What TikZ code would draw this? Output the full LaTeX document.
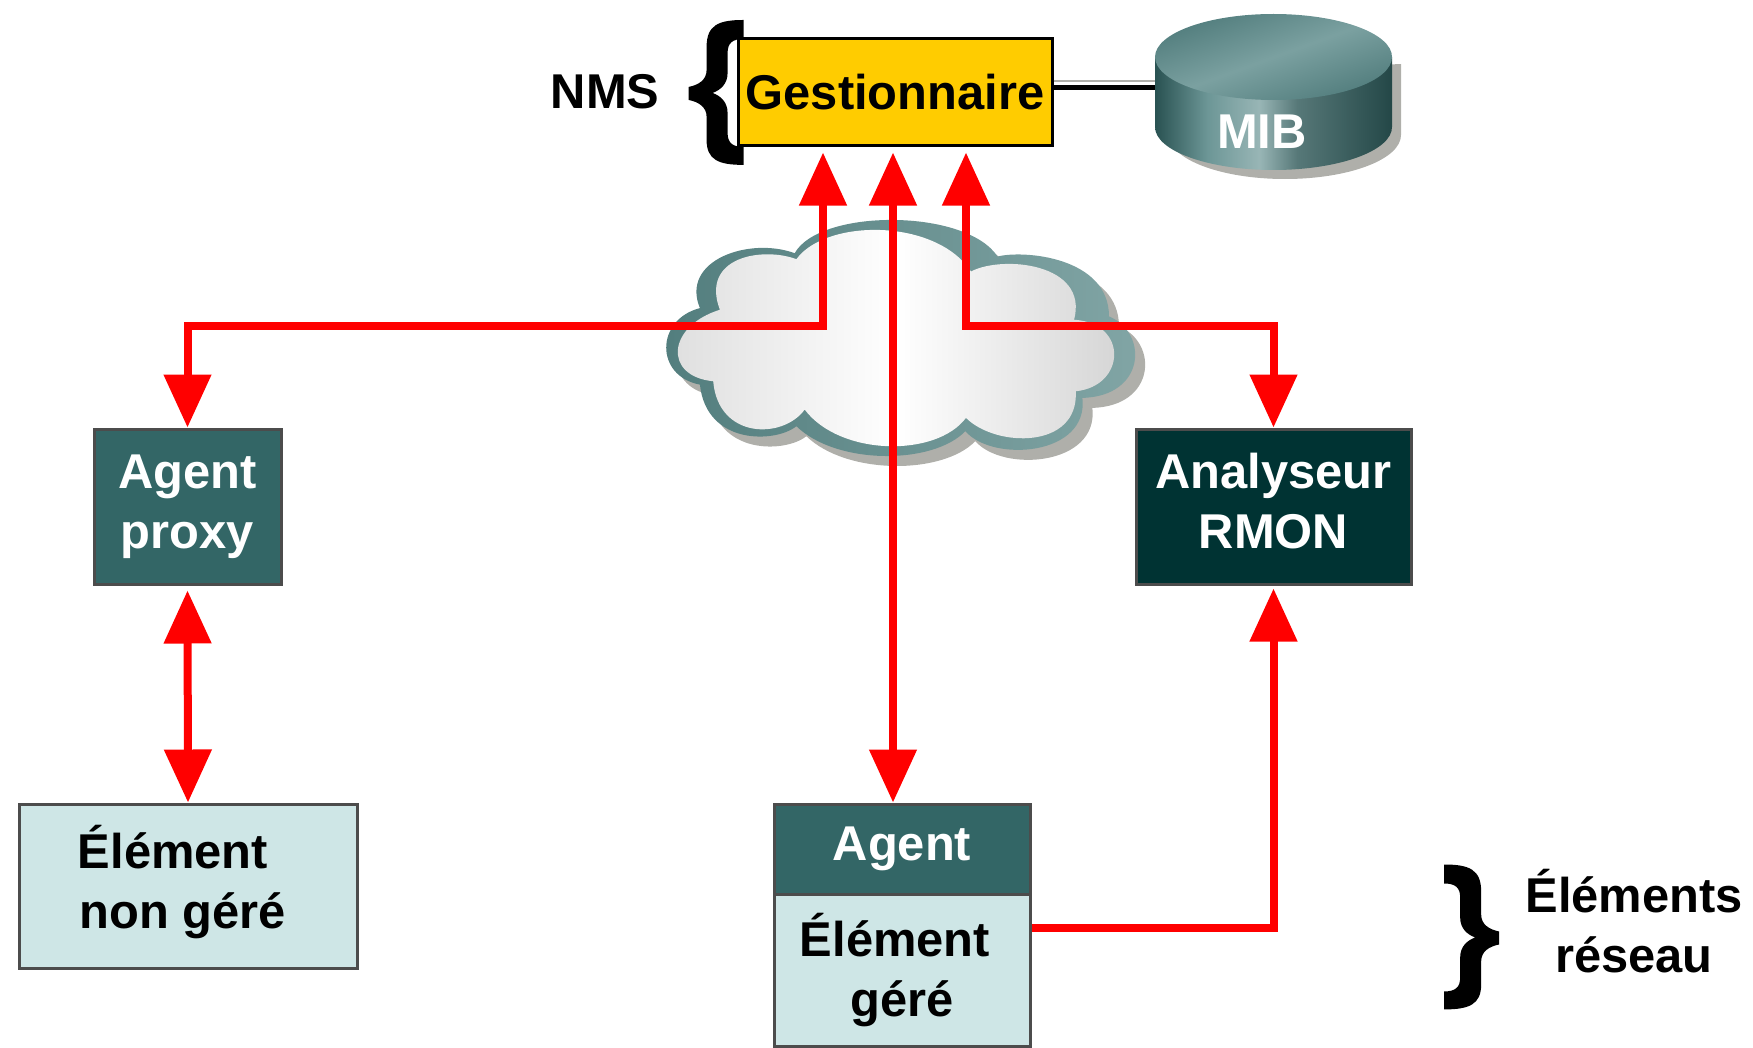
\documentclass[tikz,border=0pt]{standalone}
\usepackage{fontspec}
\setmainfont{Liberation Sans}
\definecolor{gestyellow}{RGB}{255, 204, 0}
\definecolor{tealmid}{RGB}{51, 102, 102}
\definecolor{tealdark}{RGB}{0, 51, 51}
\definecolor{teallight}{RGB}{206, 230, 230}
\definecolor{tealrim}{RGB}{108, 150, 150}
\definecolor{shadowgrey}{RGB}{175, 175, 170}
\usepackage{tikz}
\usetikzlibrary{arrows.meta, positioning, calc}
\pgfdeclarehorizontalshading{mibside}{100bp}{color(0bp)=(tealmid!80!black); color(25bp)=(tealmid!80!black); color(36bp)=(tealrim); color(47bp)=(tealrim!70!white); color(55bp)=(tealrim!80!black); color(75bp)=(tealmid!70!black); color(100bp)=(tealmid!70!black)}
\newcommand{\cloudouter}{(435,160) .. controls (510,25) and (950,25) .. (1045,170)
  .. controls (1120,150) and (1380,170) .. (1380,350)
  .. controls (1500,400) and (1490,590) .. (1300,595)
  .. controls (1320,770) and (1030,790) .. (948,695)
  .. controls (850,797) and (560,797) .. (440,680)
  .. controls (380,730) and (170,740) .. (150,555)
  .. controls (15,530) and (15,360) .. (150,325)
  .. controls (90,180) and (300,110) .. (435,160) -- cycle}
\newcommand{\cloudinner}{(440,178) .. controls (530,55) and (860,55) .. (965,215)
  .. controls (1060,165) and (1320,190) .. (1275,360)
  .. controls (1440,370) and (1430,560) .. (1280,575)
  .. controls (1290,750) and (1040,745) .. (950,655)
  .. controls (860,775) and (570,770) .. (465,630)
  .. controls (400,720) and (205,720) .. (190,545)
  .. controls (40,530) and (50,380) .. (210,330)
  .. controls (150,170) and (340,140) .. (440,178) -- cycle}
\newcommand{\braceoutline}{(1445,865) .. controls (1470,865) and (1482,870) .. (1482,892) -- (1482,915)
  .. controls (1482,925) and (1490,930) .. (1500,932) -- (1500,945)
  .. controls (1490,947) and (1482,952) .. (1482,962) -- (1482,985)
  .. controls (1482,1005) and (1470,1010) .. (1445,1010) -- (1445,992)
  .. controls (1456,992) and (1461,988) .. (1461,978) -- (1461,958)
  .. controls (1461,947) and (1468,941) .. (1476,938)
  .. controls (1468,935) and (1461,929) .. (1461,918) -- (1461,898)
  .. controls (1461,888) and (1456,884) .. (1445,884) -- cycle}
\newcommand{\nudgetext}[2]{\raisebox{#1}{\begin{tabular}{@{}c@{}}#2\end{tabular}}}
\tikzset{
  boxtext/.style={font=\fontsize{13.9}{17}\selectfont\bfseries, align=center, inner sep=0pt},
  darkbox/.style={boxtext, draw=black!70, line width=0.03cm, text=white},
  lightbox/.style={boxtext, draw=black!70, fill=teallight, line width=0.03cm},
  redlink/.style={draw=red, line width=0.08cm, {Triangle[length=0.53cm,width=0.46cm]}-{Triangle[length=0.53cm,width=0.46cm]}},
  redone/.style={draw=red, line width=0.08cm, -{Triangle[length=0.53cm,width=0.46cm]}},
  cloudgrid/.style={shift={(6.5cm,8.47cm)}, x=0.003333cm, y=-0.003333cm},
  pxgrid/.style={shift={(0cm,10.47cm)}, x=0.01cm, y=-0.01cm}
}

\begin{document}
\begin{tikzpicture}
  \useasboundingbox (0, 0) rectangle (17.53, 10.47);

  % Cloud
  \fill[cloudgrid, shadowgrey, shift={(30,30)}] \cloudouter;
  \shade[cloudgrid, left color=tealmid!85, right color=tealrim!85] \cloudouter;
  \shade[cloudgrid, left color=black!13, right color=black!17, middle color=white] \cloudinner;

  % Database
  \fill[shadowgrey] (11.69, 9.73) -- (11.69, 9.12) arc[start angle=180, end angle=360, x radius=1.16, y radius=0.44] -- (14.01, 9.83) -- cycle;
  \shade[shading=mibside] (11.55, 9.9) -- (11.55, 9.2) arc[start angle=180, end angle=360, x radius=1.185, y radius=0.43] -- (13.92, 9.9) -- cycle;
  \shade[left color=tealmid!85, right color=tealmid!85, middle color=tealrim!90, shading angle=20] (12.735, 9.9) ellipse[x radius=1.185, y radius=0.43];
  \node[boxtext, text=white] (mib) at (12.62, 9.15) {MIB};
  \coordinate (mibport) at (11.55, 9.59);

  % Braces
  \fill[pxgrid] \braceoutline;
  \fill[pxgrid, shift={(2189,-845)}, xscale=-1] \braceoutline;

  % Boxes
  \node[boxtext, draw=black, fill=gestyellow, line width=0.03cm, minimum width=3.14cm, minimum height=1.07cm] (gest) at (8.95, 9.545) {Gestionnaire};
  \node[darkbox, fill=tealmid, minimum width=1.87cm, minimum height=1.55cm] (proxy) at (1.875, 5.405) {\nudgetext{-0.05cm}{Agent\\proxy}};
  \node[darkbox, fill=tealdark, minimum width=2.75cm, minimum height=1.55cm] (rmon) at (12.735, 5.405) {\nudgetext{0.035cm}{Analyseur\\RMON}};
  \node[lightbox, minimum width=3.38cm, minimum height=1.64cm] (nongere) at (1.88, 1.61) {\nudgetext{0.03cm}{\hspace*{-0.3cm}Élément\\\hspace*{-0.1cm}non géré}};
  \node[darkbox, fill=tealmid, minimum width=2.56cm, minimum height=0.9cm] (agent) at (9.02, 1.98) {\nudgetext{-0.02cm}{Agent}};
  \node[lightbox, minimum width=2.56cm, minimum height=1.52cm] (gere) at (9.02, 0.77) {\hspace*{-0.14cm}Élément\\géré};

  % Labels
  \node[boxtext] (nms) at (6.05, 9.55) {NMS};
  \node[boxtext] (elements) at (16.34, 1.26) {Éléments\\réseau};

  % Black link
  \draw[black, line width=0.05cm, preaction={draw=shadowgrey, transform canvas={yshift=2pt}}] (gest.east |- mibport) -- (mibport);

  % Red links
  \coordinate (portl) at ([xshift=-0.72cm, yshift=-0.05cm]gest.south);
  \coordinate (portm) at ([xshift=-0.02cm, yshift=-0.05cm]gest.south);
  \coordinate (portr) at ([xshift=0.71cm, yshift=-0.05cm]gest.south);
  \coordinate (busl) at (portl |- 0, 7.21);
  \coordinate (busr) at (portr |- 0, 7.21);
  \coordinate (gereout) at ([yshift=0.42cm]gere.east);
  \draw[redlink] (proxy.north) |- (busl) -- (portl);
  \draw[redlink] (rmon.north) |- (busr) -- (portr);
  \draw[redlink] (portm |- agent.north) -- (portm);
  \draw[redlink] ([yshift=-0.05cm]proxy.south) -- (nongere.north);
  \draw[redone, shorten >=0.03cm] (gereout) -| (rmon.south);
\end{tikzpicture}
\end{document}
